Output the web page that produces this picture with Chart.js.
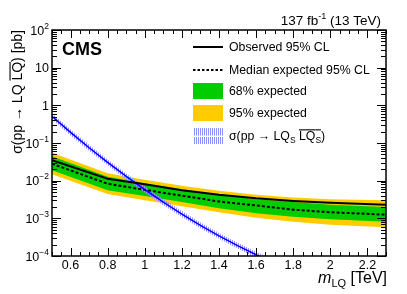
<!DOCTYPE html>
<html><head><meta charset="utf-8">
<script src="https://cdn.jsdelivr.net/npm/chart.js@4.4.1/dist/chart.umd.min.js"></script>
<style>html,body{margin:0;padding:0;background:#fff;}canvas{display:block;}</style>
</head><body>
<canvas id="c" width="407" height="294"></canvas>
<script>
// ---- data ----
const masses      = [0.5, 0.8, 1.0, 1.2, 1.4, 1.6, 1.8, 2.0, 2.3];
const observed    = [0.0348, 0.0112, 0.0080, 0.0056, 0.0042, 0.0034, 0.0029, 0.0026, 0.0023];
const expected    = [0.0281, 0.0083, 0.0057, 0.0040, 0.0028, 0.0022, 0.0017, 0.00145, 0.00125];
const band68Up    = [0.0444, 0.0127, 0.0085, 0.0059, 0.0042, 0.0032, 0.0027, 0.0023, 0.0020];
const band68Down  = [0.0189, 0.0056, 0.0039, 0.0027, 0.00185, 0.00136, 0.0011, 0.00095, 0.00081];
const band95Up    = [0.055, 0.0157, 0.0106, 0.0073, 0.0054, 0.0042, 0.0036, 0.0032, 0.0030];
const band95Down  = [0.0148, 0.0044, 0.0030, 0.0021, 0.00145, 0.00104, 0.00081, 0.00068, 0.00058];

const theoryMasses = [0.5, 0.6, 0.7, 0.8, 0.9, 1.0, 1.1, 1.2, 1.3, 1.4, 1.5, 1.6, 1.7];
const theory       = [0.51, 0.191, 0.075, 0.0306, 0.0130, 0.00579, 0.00268, 0.00130, 0.000653, 0.000343, 0.000188, 0.000108, 0.000064];
const theoryUp     = [0.61, 0.229, 0.090, 0.0367, 0.0156, 0.00695, 0.00322, 0.00156, 0.00078, 0.00041, 0.000226, 0.00013, 0.000077];
const theoryDown   = [0.425, 0.159, 0.0625, 0.0255, 0.0108, 0.00483, 0.00223, 0.00108, 0.000544, 0.000286, 0.000157, 0.000090, 0.000053];

const xTickValues = [0.6, 0.8, 1.0, 1.2, 1.4, 1.6, 1.8, 2.0, 2.2];
const xTickLabels = ['0.6', '0.8', '1', '1.2', '1.4', '1.6', '1.8', '2', '2.2'];
const yTickExponents = [2, 1, 0, -1, -2, -3, -4];
const yTickBase = ['10', '10', '1', '10', '10', '10', '10'];
const yTickSup  = ['2', '', '', '\u22121', '\u22122', '\u22123', '\u22124'];

// ---- styles ----
const FONT = '"Liberation Sans", Arial, Helvetica, sans-serif';
const fnt = (size, style) => (style ? style + ' ' : '') + size + 'px ' + FONT;
const YELLOW = '#ffcc00', GREEN = '#00cc00', BLUE = '#0000ff';

function makeHatch() {
  const p = document.createElement('canvas');
  p.width = 2; p.height = 2;
  const c = p.getContext('2d');
  c.fillStyle = '#8f8fff';
  c.fillRect(0, 0, 1, 2);
  return p;
}
const hatchCanvas = makeHatch();
const ctx0 = document.getElementById('c').getContext('2d');
const hatch = ctx0.createPattern(hatchCanvas, 'repeat');

const pts = (xs, ys) => xs.map((x, i) => ({x: x, y: ys[i]}));

function drawRuns(ctx, runs, x, y) {
  for (const r of runs) {
    ctx.font = r.font;
    const w = ctx.measureText(r.t).width;
    ctx.fillText(r.t, x, y + (r.dy || 0));
    if (r.over !== undefined) ctx.fillRect(x, y + r.over, w, 1.1);
    x += w;
  }
  return x;
}
function runsWidth(ctx, runs) {
  let w = 0;
  for (const r of runs) { ctx.font = r.font; w += ctx.measureText(r.t).width; }
  return w;
}

const decor = {
  id: 'decor',
  afterDraw(chart) {
    const ctx = chart.ctx;
    const {left, right, top, bottom} = chart.chartArea;
    const xs = chart.scales.x, ys = chart.scales.y;
    ctx.save();
    ctx.strokeStyle = '#000';
    ctx.fillStyle = '#000';
    ctx.lineWidth = 1;
    // ticks
    ctx.beginPath();
    for (let k = 0; k <= 36; k++) {
      const v = 0.5 + k * 0.05;
      const px = Math.round(xs.getPixelForValue(v)) + 0.5;
      const major = (k % 4) === 2;
      const len = major ? 8 : 4;
      ctx.moveTo(px, bottom); ctx.lineTo(px, bottom - len);
      ctx.moveTo(px, top); ctx.lineTo(px, top + len);
    }
    for (let e = -4; e <= 2; e++) {
      for (let m = 1; m <= 9; m++) {
        const v = m * Math.pow(10, e);
        if (v > 100.0001) continue;
        const py = Math.round(ys.getPixelForValue(v)) + 0.5;
        const len = m === 1 ? 9 : 5;
        ctx.moveTo(left, py); ctx.lineTo(left + len, py);
        ctx.moveTo(right, py); ctx.lineTo(right - len, py);
      }
    }
    ctx.stroke();
    // frame
    ctx.lineWidth = 1.5;
    ctx.strokeRect(left, top, right - left, bottom - top);

    // x tick labels
    ctx.font = fnt(12.5);
    ctx.textAlign = 'center';
    ctx.textBaseline = 'alphabetic';
    xTickValues.forEach((v, i) => {
      ctx.fillText(xTickLabels[i], xs.getPixelForValue(v), 269);
    });
    // y tick labels
    ctx.textAlign = 'left';
    yTickExponents.forEach((e, i) => {
      const py = ys.getPixelForValue(Math.pow(10, e));
      const runs = [{t: yTickBase[i], font: fnt(12.5)}];
      if (yTickSup[i]) runs.push({t: yTickSup[i], font: fnt(8.5), dy: -6});
      const w = runsWidth(ctx, runs);
      drawRuns(ctx, runs, 49 - w, py + 4.5);
    });

    // y title (rotated)
    ctx.save();
    ctx.translate(22, top);
    ctx.rotate(-Math.PI / 2);
    const yt = [
      {t: '\u03c3(pp \u2192 LQ ', font: fnt(14)},
      {t: 'LQ', font: fnt(14), over: -12.5},
      {t: ') [pb]', font: fnt(14)}
    ];
    const ytw = runsWidth(ctx, yt);
    drawRuns(ctx, yt, -ytw, 0);
    ctx.restore();

    // x title
    const xt = [
      {t: 'm', font: fnt(16, 'italic')},
      {t: 'LQ', font: fnt(11), dy: 4},
      {t: ' [TeV]', font: fnt(16)}
    ];
    const xtw = runsWidth(ctx, xt);
    drawRuns(ctx, xt, 387 - xtw, 283);

    // CMS
    ctx.font = fnt(18, 'bold');
    ctx.fillText('CMS', 62, 55);

    // lumi
    const lr = [
      {t: '137 fb', font: fnt(13.5)},
      {t: '-1', font: fnt(9), dy: -6},
      {t: ' (13 TeV)', font: fnt(13.5)}
    ];
    const lw = runsWidth(ctx, lr);
    drawRuns(ctx, lr, 381 - lw, 25);

    // legend
    const lx0 = 193, lx1 = 223, tx = 229;
    const rowsY = [47, 70, 91, 113, 136];
    ctx.lineWidth = 2; ctx.strokeStyle = '#000';
    ctx.beginPath(); ctx.moveTo(lx0, rowsY[0]); ctx.lineTo(lx1, rowsY[0]); ctx.stroke();
    ctx.setLineDash([2.5, 2]);
    ctx.beginPath(); ctx.moveTo(lx0, rowsY[1]); ctx.lineTo(lx1, rowsY[1]); ctx.stroke();
    ctx.setLineDash([]);
    ctx.fillStyle = GREEN; ctx.fillRect(lx0, rowsY[2] - 8, lx1 - lx0, 16);
    ctx.fillStyle = YELLOW; ctx.fillRect(lx0, rowsY[3] - 8, lx1 - lx0, 16);
    ctx.fillStyle = hatch; ctx.fillRect(lx0, rowsY[4] - 8, lx1 - lx0, 16);
    ctx.fillStyle = '#fff'; ctx.fillRect(lx0, rowsY[4] - 0.5, lx1 - lx0, 1.5);
    ctx.fillStyle = '#000';
    const lf = fnt(12.3);
    const off = 4.3;
    drawRuns(ctx, [{t: 'Observed 95% CL', font: lf}], tx, rowsY[0] + off);
    drawRuns(ctx, [{t: 'Median expected 95% CL', font: lf}], tx, rowsY[1] + off);
    drawRuns(ctx, [{t: '68% expected', font: lf}], tx, rowsY[2] + off);
    drawRuns(ctx, [{t: '95% expected', font: lf}], tx, rowsY[3] + off);
    drawRuns(ctx, [
      {t: '\u03c3(pp \u2192 LQ', font: lf},
      {t: 'S', font: fnt(8.5), dy: 3},
      {t: ' ', font: lf},
      {t: 'LQ', font: lf, over: -11},
      {t: 'S', font: fnt(8.5), dy: 3, over: -11},
      {t: ')', font: lf}
    ], tx, rowsY[4] + off);
    ctx.restore();
  }
};

new Chart(ctx0, {
  type: 'line',
  data: {
    datasets: [
      {data: pts(masses, band95Up), fill: 1, backgroundColor: YELLOW, borderWidth: 0, order: 6},
      {data: pts(masses, band95Down), fill: false, borderWidth: 0, order: 6},
      {data: pts(masses, band68Up), fill: 3, backgroundColor: GREEN, borderWidth: 0, order: 5},
      {data: pts(masses, band68Down), fill: false, borderWidth: 0, order: 5},
      {data: pts(theoryMasses, theoryUp), fill: 5, backgroundColor: hatch, borderWidth: 0, order: 4},
      {data: pts(theoryMasses, theoryDown), fill: false, borderWidth: 0, order: 4},
      {data: pts(theoryMasses, theory), fill: false, borderColor: BLUE, borderWidth: 1.5, order: 3},
      {data: pts(masses, expected), fill: false, borderColor: '#000', borderWidth: 2, borderDash: [3, 2], order: 2},
      {data: pts(masses, observed), fill: false, borderColor: '#000', borderWidth: 2, order: 1}
    ]
  },
  options: {
    responsive: false,
    animation: false,
    devicePixelRatio: 1,
    layout: {padding: {left: 52, right: 21, top: 30, bottom: 38}},
    elements: {point: {radius: 0}, line: {tension: 0}},
    plugins: {legend: {display: false}, tooltip: {enabled: false}},
    scales: {
      x: {type: 'linear', min: 0.5, max: 2.3, display: false},
      y: {type: 'logarithmic', min: 1e-4, max: 100, display: false}
    }
  },
  plugins: [decor]
});
</script>
</body></html>
